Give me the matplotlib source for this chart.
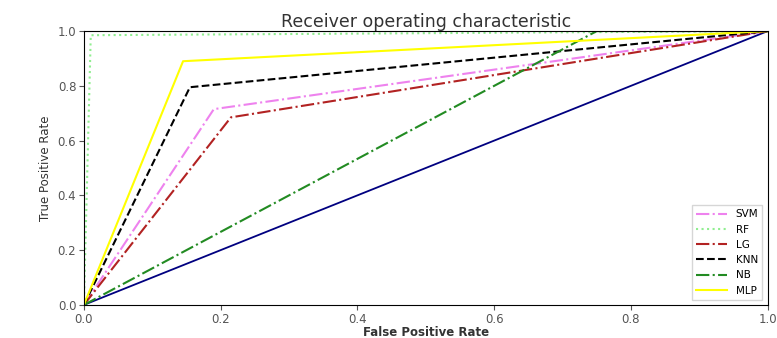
import matplotlib
matplotlib.use('Agg')
import matplotlib.pyplot as plt

# ROC points for each classifier (single threshold -> three points)
models = ['SVM', 'RF', 'LG', 'KNN', 'NB', 'MLP']
fpr = {
    'SVM': [0.0, 0.19, 1.0],
    'RF':  [0.0, 0.01, 1.0],
    'LG':  [0.0, 0.215, 1.0],
    'KNN': [0.0, 0.155, 1.0],
    'NB':  [0.0, 0.75, 1.0],
    'MLP': [0.0, 0.145, 1.0],
}
tpr = {
    'SVM': [0.0, 0.715, 1.0],
    'RF':  [0.0, 0.985, 1.0],
    'LG':  [0.0, 0.685, 1.0],
    'KNN': [0.0, 0.795, 1.0],
    'NB':  [0.0, 1.0, 1.0],
    'MLP': [0.0, 0.89, 1.0],
}
styles = {
    'SVM': ('violet', '-.'),
    'RF':  ('lightgreen', ':'),
    'LG':  ('firebrick', '-.'),
    'KNN': ('black', '--'),
    'NB':  ('forestgreen', '-.'),
    'MLP': ('yellow', '-'),
}

fig = plt.figure(figsize=(7.77, 3.38), dpi=100)
ax = fig.add_axes([0.108, 0.098, 0.88, 0.81])

ax.plot([0, 1], [0, 1], color='navy', lw=1.3)
for m in models:
    c, ls = styles[m]
    ax.plot(fpr[m], tpr[m], color=c, linestyle=ls, lw=1.5, label=m)

ax.set_xlim(0, 1)
ax.set_ylim(0, 1)
ax.set_xticks([0, 0.2, 0.4, 0.6, 0.8, 1.0])
ax.set_yticks([0, 0.2, 0.4, 0.6, 0.8, 1.0])
ax.tick_params(labelsize=8.5, colors='#555555', pad=2)
ax.set_xlabel('False Positive Rate', fontsize=8.5, fontweight='bold', color='#333333', labelpad=0)
ax.set_ylabel('True Positive Rate', fontsize=8.5, family='Liberation Sans Narrow', color='#333333')
ax.set_title('Receiver operating characteristic', fontsize=12.5, color='#333333', pad=3)
ax.legend(loc='lower right', fontsize=7.5, handlelength=3, fancybox=False)

fig.savefig('out.png', dpi=100)
